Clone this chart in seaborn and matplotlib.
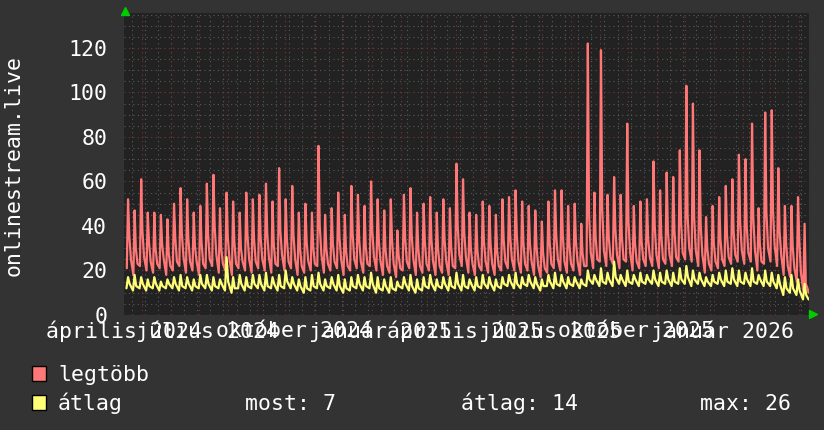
import numpy as np
import pandas as pd
import matplotlib
matplotlib.use("Agg")
import matplotlib.pyplot as plt
import seaborn as sns
from matplotlib.patches import Rectangle

#%% Data (one entry per week)
start = pd.Timestamp("2024-04-12")
end = pd.Timestamp("2026-04-12")

red_peak = [52, 47, 61, 46, 46, 45, 43, 50, 57, 52,
            46, 49, 59, 63, 48, 55, 51, 46, 55, 52,
            54, 59, 51, 66, 52, 58, 46, 50, 46, 76,
            45, 48, 55, 45, 58, 54, 49, 60, 52, 47,
            52, 38, 54, 57, 46, 50, 53, 46, 52, 48,
            68, 61, 46, 45, 51, 49, 45, 52, 53, 56,
            51, 49, 47, 42, 51, 56, 56, 49, 50, 41,
            122, 55, 119, 54, 62, 54, 86, 49, 51, 52,
            69, 56, 64, 62, 74, 103, 95, 74, 44, 49,
            53, 58, 61, 72, 70, 86, 48, 91, 92, 66,
            49, 49, 53, 41]
red_shoulder = [36, 30, 38, 33, 30, 32, 28, 35, 37, 34,
                31, 33, 36, 40, 30, 35, 33, 30, 36, 34,
                35, 37, 32, 38, 34, 36, 30, 33, 31, 40,
                30, 32, 35, 29, 37, 34, 31, 38, 33, 30,
                34, 27, 35, 36, 30, 33, 34, 30, 34, 31,
                40, 37, 30, 29, 33, 32, 29, 34, 35, 36,
                33, 32, 31, 28, 33, 36, 36, 32, 33, 28,
                45, 35, 48, 35, 39, 35, 42, 32, 33, 34,
                40, 36, 38, 38, 42, 45, 44, 40, 30, 32,
                34, 36, 38, 42, 40, 44, 32, 46, 47, 38,
                32, 31, 34, 14]
red_dip = [25, 23, 26, 24, 23, 25, 22, 24, 26, 24,
           24, 23, 25, 27, 23, 25, 23, 24, 25, 24,
           25, 26, 23, 27, 24, 25, 22, 24, 23, 27,
           23, 24, 25, 22, 25, 24, 23, 26, 24, 22,
           23, 21, 24, 25, 22, 23, 24, 22, 24, 22,
           27, 26, 23, 22, 24, 23, 22, 24, 25, 24,
           23, 24, 22, 21, 23, 25, 24, 23, 24, 22,
           28, 25, 29, 26, 27, 25, 28, 24, 25, 26,
           27, 25, 27, 26, 28, 30, 29, 27, 23, 24,
           25, 26, 27, 29, 28, 29, 24, 30, 31, 27,
           22, 21, 19, 12]
red_low = [21, 18, 22, 20, 19, 21, 18, 20, 22, 19,
           20, 18, 21, 22, 19, 20, 18, 21, 20, 19,
           21, 20, 19, 22, 20, 21, 18, 19, 20, 22,
           19, 20, 21, 18, 20, 21, 19, 22, 20, 18,
           19, 17, 20, 21, 18, 19, 20, 18, 19, 18,
           21, 22, 19, 18, 20, 19, 18, 20, 21, 20,
           19, 20, 18, 17, 19, 21, 20, 19, 20, 18,
           22, 21, 24, 22, 23, 21, 24, 20, 21, 22,
           22, 21, 23, 22, 24, 25, 24, 22, 19, 20,
           21, 22, 23, 24, 23, 24, 20, 23, 24, 22,
           18, 17, 15, 11]
red_last = 10

avg_peak = [17, 18, 17, 16, 17, 15, 16, 17, 18, 17,
            16, 18, 18, 17, 16, 26, 17, 18, 17, 18,
            18, 19, 17, 18, 20, 17, 16, 17, 18, 19,
            16, 17, 18, 16, 17, 18, 17, 19, 17, 16,
            17, 15, 17, 18, 16, 17, 18, 16, 17, 17,
            19, 18, 16, 17, 18, 17, 16, 17, 18, 19,
            17, 18, 17, 16, 18, 19, 18, 17, 17, 16,
            20, 18, 21, 19, 24, 18, 20, 18, 19, 18,
            20, 19, 20, 19, 21, 22, 20, 19, 17, 18,
            19, 20, 21, 20, 19, 21, 18, 20, 19, 18,
            17, 18, 16, 14]
avg_mid = [14, 13, 14, 13, 14, 13, 14, 14, 13, 14,
           13, 14, 14, 13, 14, 15, 12, 14, 13, 14,
           14, 13, 14, 13, 15, 14, 13, 12, 13, 14,
           13, 14, 13, 12, 13, 14, 13, 14, 12, 13,
           12, 13, 14, 13, 12, 13, 14, 13, 14, 13,
           14, 13, 14, 13, 14, 14, 13, 14, 15, 14,
           14, 15, 14, 13, 15, 14, 15, 14, 15, 14,
           16, 16, 15, 16, 17, 16, 15, 16, 15, 16,
           16, 15, 16, 15, 16, 17, 16, 16, 15, 15,
           16, 15, 16, 15, 16, 15, 16, 15, 15, 14,
           12, 12, 11, 9]
avg_low = [12, 11, 12, 11, 12, 11, 12, 12, 11, 12,
           11, 12, 12, 11, 12, 11, 10, 12, 11, 12,
           12, 11, 12, 11, 12, 12, 11, 10, 11, 12,
           11, 12, 11, 10, 11, 12, 11, 12, 10, 11,
           10, 11, 12, 11, 10, 11, 12, 11, 12, 11,
           12, 11, 12, 11, 12, 12, 11, 12, 13, 12,
           12, 13, 12, 11, 13, 12, 13, 12, 13, 12,
           13, 14, 13, 14, 13, 14, 13, 14, 13, 14,
           14, 13, 14, 13, 14, 14, 13, 14, 13, 13,
           14, 13, 14, 13, 14, 13, 14, 13, 13, 12,
           9, 10, 9, 7]
avg_last = 7

tick_labels = ["április 2024", "július 2024", "október 2024", "január 2025",
               "április 2025", "július 2025", "október 2025", "január 2026"]
tick_dates = pd.to_datetime(["2024-04-12", "2024-07-10", "2024-10-10", "2025-01-10",
                             "2025-04-10", "2025-07-10", "2025-10-10", "2026-01-10"])

legend_rows = [("legtöbb", "#ff7777"), ("átlag", "#ffff77")]
stats = ["most: 7", "átlag: 14", "max: 26"]

#%% Build the time series (weekly pattern: low, peak, shoulder, dip)
wk = np.arange(len(red_peak)) * 7.0
red_days = np.append(np.column_stack([wk + 3.0, wk + 4.3, wk + 5.6, wk + 7.4]).ravel(), 729.5)
red_vals = np.append(np.column_stack([red_low, red_peak, red_shoulder, red_dip]).ravel(), red_last)
avg_days = np.append(np.column_stack([wk + 2.6, wk + 4.3, wk + 6.0]).ravel(), 729.5)
avg_vals = np.append(np.column_stack([avg_low, avg_peak, avg_mid]).ravel(), avg_last)

red_df = pd.DataFrame({"date": start + pd.to_timedelta(red_days, unit="D"), "value": red_vals})
avg_df = pd.DataFrame({"date": start + pd.to_timedelta(avg_days, unit="D"), "value": avg_vals})

#%% Plot
sns.set_theme(style="dark", rc={"axes.facecolor": "#222222",
                                "figure.facecolor": "#333333"})
plt.rcParams["font.family"] = ["DejaVu Sans Mono", "DejaVu Sans"]
fs = 15.5

fig = plt.figure(figsize=(8.24, 4.30), dpi=100)
ax = fig.add_axes([124 / 824, 115 / 430, 685 / 824, 302 / 430])

sns.lineplot(data=red_df, x="date", y="value", color="#ff7777", linewidth=1.6,
             estimator=None, ax=ax, zorder=3)
sns.lineplot(data=avg_df, x="date", y="value", color="#ffff77", linewidth=1.6,
             estimator=None, ax=ax, zorder=4)

ax.set_xlim(start, end)
ax.set_ylim(0, 135.7)

# grid
ax.set_yticks(np.arange(0, 121, 20))
ax.set_yticks(np.arange(0, 136, 5), minor=True)
ax.set_xticks(tick_dates)
ax.set_xticklabels(tick_labels)
ax.set_xticks(pd.date_range("2024-04-20", end, freq="14D"), minor=True)
ax.grid(False)
ax.grid(which="minor", color="#5a5a5a", linestyle=(0, (1, 3)), linewidth=0.8)
ax.grid(which="major", axis="y", color="#7a3434", linestyle=(0, (1, 3)), linewidth=0.8)
for m in pd.date_range("2024-05-01", end, freq="MS"):
    ax.axvline(m, color="#7a3434", linestyle=(0, (1, 3)), linewidth=0.8, zorder=1)

ax.tick_params(which="both", length=0)
ax.tick_params(axis="y", pad=12, labelsize=fs, labelcolor="white")
ax.tick_params(axis="x", pad=4, labelsize=fs, labelcolor="white")
ax.set_xlabel("")
ax.set_ylabel("")
for s in ax.spines.values():
    s.set_visible(False)

# arrows
ax.plot([0.001], [1.008], marker="^", ms=6, color="#00cc00", transform=ax.transAxes, clip_on=False)
ax.plot([1.006], [0.003], marker=">", ms=6, color="#00cc00", transform=ax.transAxes, clip_on=False)

fig.text(14 / 824, 1 - 166 / 430, "onlinestream.live", rotation=90, ha="center", va="center",
         color="white", fontsize=fs)

# legend
for i, (name, col) in enumerate(legend_rows):
    base = 381 + i * 28.5
    fig.add_artist(Rectangle((32 / 824, 1 - (base) / 430), 14 / 824, 15 / 430,
                             facecolor=col, edgecolor="black", linewidth=1,
                             transform=fig.transFigure))
    fig.text(58 / 824, 1 - base / 430, name, va="baseline", color="white", fontsize=fs)
for x, txt in zip([245, 461, 700], stats):
    fig.text(x / 824, 1 - 409.5 / 430, txt, va="baseline", color="white", fontsize=fs)

plt.savefig("out.png", dpi=100, facecolor=fig.get_facecolor())
plt.close()
